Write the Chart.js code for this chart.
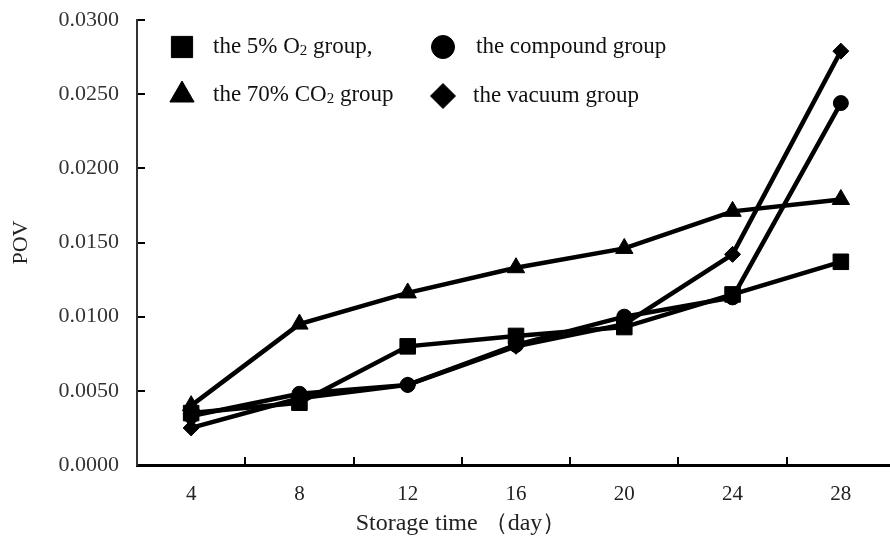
<!DOCTYPE html>
<html>
<head>
<meta charset="utf-8">
<script src="https://cdn.jsdelivr.net/npm/chart.js@4.4.0/dist/chart.umd.min.js"></script>
<style>
    html, body { margin: 0; padding: 0; background: #fff; overflow: hidden; }
    #wrap { position: relative; width: 895px; height: 541px; }
</style>
</head>
<body>
<div id="wrap"><canvas id="povChart" width="895" height="541"></canvas></div>
<script>
// ============================================
// Data
// ============================================
const days = ["4", "8", "12", "16", "20", "24", "28"];
const o2Group = [0.0035, 0.0042, 0.0080, 0.0087, 0.0093, 0.0115, 0.0137];
const co2Group = [0.0040, 0.0095, 0.0116, 0.0133, 0.0146, 0.0171, 0.0179];
const compoundGroup = [0.0033, 0.0048, 0.0054, 0.0081, 0.0100, 0.0113, 0.0244];
const vacuumGroup = [0.0025, 0.0045, 0.0054, 0.0080, 0.0095, 0.0142, 0.0279];
const seriesNames = ["the 5% O₂ group,", "the 70% CO₂ group", "the compound group", "the vacuum group"];
const yTicks = [0, 0.005, 0.01, 0.015, 0.02, 0.025, 0.03];
const xTitle = "Storage time （day）";

const FONT = "'Liberation Serif', 'Times New Roman', serif";

function series(label, data, style, radius) {
    return {
        label: label,
        data: data,
        borderColor: "#000",
        backgroundColor: "#000",
        borderWidth: 4.5,
        pointStyle: style,
        pointRadius: radius,
        pointBackgroundColor: "#000",
        pointBorderColor: "#000",
        pointBorderWidth: 1,
        tension: 0,
        fill: false,
    };
}

// --- legend drawn inside the plot, 2 columns ---
const legendSlots = [
    { style: "rect", r: 15, x: 182, y: 47, tx: 213 },
    { style: "triangle", r: 14, x: 182, y: 95, tx: 213 },
    { style: "circle", r: 11.5, x: 443, y: 47, tx: 476 },
    { style: "rectRot", r: 12.5, x: 443, y: 96, tx: 473 },
];

function drawLabel(ctx, text, x, y) {
    // "₂" is drawn as a real subscript 2
    const parts = text.split("₂");
    ctx.textBaseline = "middle";
    ctx.textAlign = "left";
    parts.forEach((p, i) => {
        ctx.font = "23px " + FONT;
        ctx.fillText(p, x, y);
        x += ctx.measureText(p).width;
        if (i < parts.length - 1) {
            ctx.font = "15px " + FONT;
            ctx.fillText("2", x, y + 4);
            x += ctx.measureText("2").width;
        }
    });
}

const legendPlugin = {
    id: "innerLegend",
    afterDraw(chart) {
        const ctx = chart.ctx;
        ctx.save();
        ctx.fillStyle = "#000";
        ctx.strokeStyle = "#000";
        chart.data.datasets.forEach((ds, i) => {
            const s = legendSlots[i];
            Chart.helpers.drawPoint(ctx, { pointStyle: s.style, radius: s.r, rotation: 0, borderWidth: 1 }, s.x, s.y);
            ctx.fillStyle = "#111";
            drawLabel(ctx, ds.label, s.tx, s.y);
            ctx.fillStyle = "#000";
        });
        // x axis title sits left of the plot centre in the original
        ctx.fillStyle = "#222";
        ctx.font = "24px " + FONT;
        ctx.textAlign = "center";
        ctx.textBaseline = "middle";
        ctx.fillText(xTitle, 461, 524);
        ctx.restore();
    },
};

const ctx = document.getElementById("povChart").getContext("2d");
new Chart(ctx, {
    type: "line",
    data: {
        labels: days,
        datasets: [
            series(seriesNames[0], o2Group, "rect", 11),
            series(seriesNames[1], co2Group, "triangle", 10),
            series(seriesNames[2], compoundGroup, "circle", 7.5),
            series(seriesNames[3], vacuumGroup, "rectRot", 8),
        ],
    },
    options: {
        responsive: false,
        animation: false,
        devicePixelRatio: 1,
        layout: { autoPadding: false, padding: { top: 20, left: 0, right: 0, bottom: 0 } },
        plugins: { legend: { display: false }, tooltip: { enabled: false } },
        scales: {
            x: {
                offset: true,
                grid: { offset: true, drawOnChartArea: false, drawTicks: true, tickLength: -8, color: "#000", lineWidth: 2 },
                border: { color: "#000", width: 3 },
                ticks: { color: "#222", padding: 25, font: { family: FONT, size: 21 } },
                afterFit: (scale) => {
                    scale.height = 76;
                    scale.paddingLeft = 0;
                    scale.paddingRight = 0;
                },
            },
            y: {
                min: 0,
                max: 0.03,
                afterBuildTicks: (scale) => { scale.ticks = yTicks.map((v) => ({ value: v })); },
                grid: { drawOnChartArea: false, drawTicks: true, tickLength: -8, color: "#000", lineWidth: 2 },
                border: { color: "#333", width: 2 },
                ticks: { color: "#333", padding: 26, font: { family: FONT, size: 22 }, callback: (v) => Number(v).toFixed(4) },
                title: { display: true, text: "POV", color: "#222", padding: 8, font: { family: FONT, size: 22 } },
                afterFit: (scale) => {
                    scale.width = 137;
                    scale.paddingTop = 0;
                    scale.paddingBottom = 0;
                },
            },
        },
    },
    plugins: [legendPlugin],
});
</script>
</body>
</html>
